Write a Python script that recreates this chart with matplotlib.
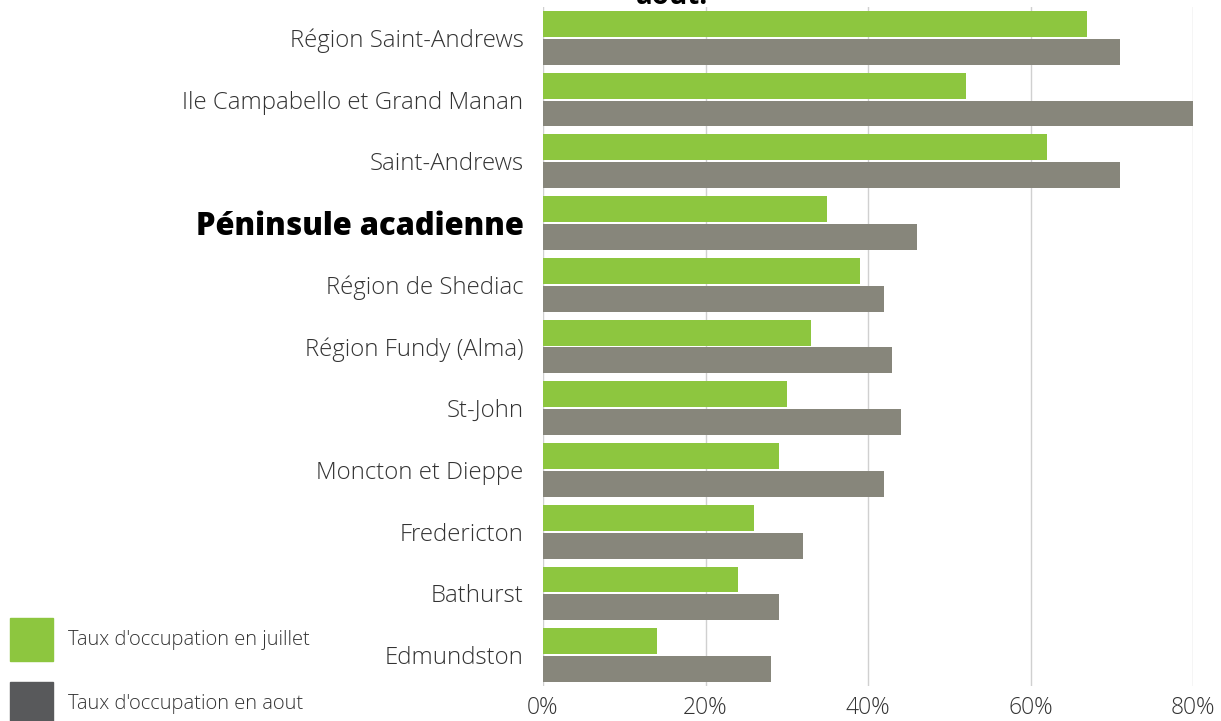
import matplotlib
matplotlib.use("Agg")
import matplotlib.pyplot as plt
import numpy as np

plt.rcParams['font.family'] = ['Open Sans', 'DejaVu Sans']

regions = ["Région Saint-Andrews", "Ile Campabello et Grand Manan", "Saint-Andrews",
           "Péninsule acadienne", "Région de Shediac", "Région Fundy (Alma)", "St-John",
           "Moncton et Dieppe", "Fredericton", "Bathurst", "Edmundston"]
juillet = [67, 52, 62, 35, 39, 33, 30, 29, 26, 24, 14]
aout = [71, 80, 71, 46, 42, 43, 44, 42, 32, 29, 28]
ticks = [0, 20, 40, 60, 80]

GREEN = "#8DC63F"
GRAY = "#87867B"
LEG_GRAY = "#58595B"

fig = plt.figure(figsize=(12.21, 7.21), dpi=100)
ax = fig.add_axes([543/1221, 1-686/721, 650/1221, 679/721])

y = np.arange(len(regions))
h = 0.42
ax.barh(y - h/2 - 0.015, juillet, height=h, color=GREEN, zorder=3)
ax.barh(y + h/2 + 0.015, aout, height=h, color=GRAY, zorder=3)
ax.set_ylim(len(regions) - 0.5, -0.5)
ax.set_xlim(0, 80)
ax.set_xticks(ticks)
ax.set_xticklabels([f"{t}%" for t in ticks], fontsize=16.5, fontweight='light', color="#333333")
ax.set_yticks(y)
ax.set_yticklabels(regions, fontsize=17.3, fontweight='light', color="#333333")
for lab in ax.get_yticklabels():
    if lab.get_text() == "Péninsule acadienne":
        lab.set_fontweight('heavy')
        lab.set_fontsize(22.2)
        lab.set_color("black")
ax.tick_params(axis='both', length=0)
ax.tick_params(axis='y', pad=14)
ax.tick_params(axis='x', pad=7)
ax.grid(axis='x', color="#D0D0D0", linewidth=1, zorder=0)
for s in ax.spines.values():
    s.set_visible(False)

# title sits above the figure edge, only its bottom shows (as in the source)
fig.text(672/1221, 1 - 4/721, "août.", fontsize=20, fontweight='bold', ha='center', va='baseline')

# legend
fig.patches.append(plt.Rectangle((10/1221, 1-661/721), 43/1221, 43/721, color=GREEN,
                                 transform=fig.transFigure, figure=fig))
fig.patches.append(plt.Rectangle((10/1221, 1-725/721), 43/1221, 43/721, color=LEG_GRAY,
                                 transform=fig.transFigure, figure=fig))
fig.text(68/1221, 1-640/721, "Taux d'occupation en juillet", fontsize=14.5, fontweight='light',
         va='center', color="#333333")
fig.text(68/1221, 1-704/721, "Taux d'occupation en aout", fontsize=14.5, fontweight='light',
         va='center', color="#333333")

fig.savefig("out.png", dpi=100)
